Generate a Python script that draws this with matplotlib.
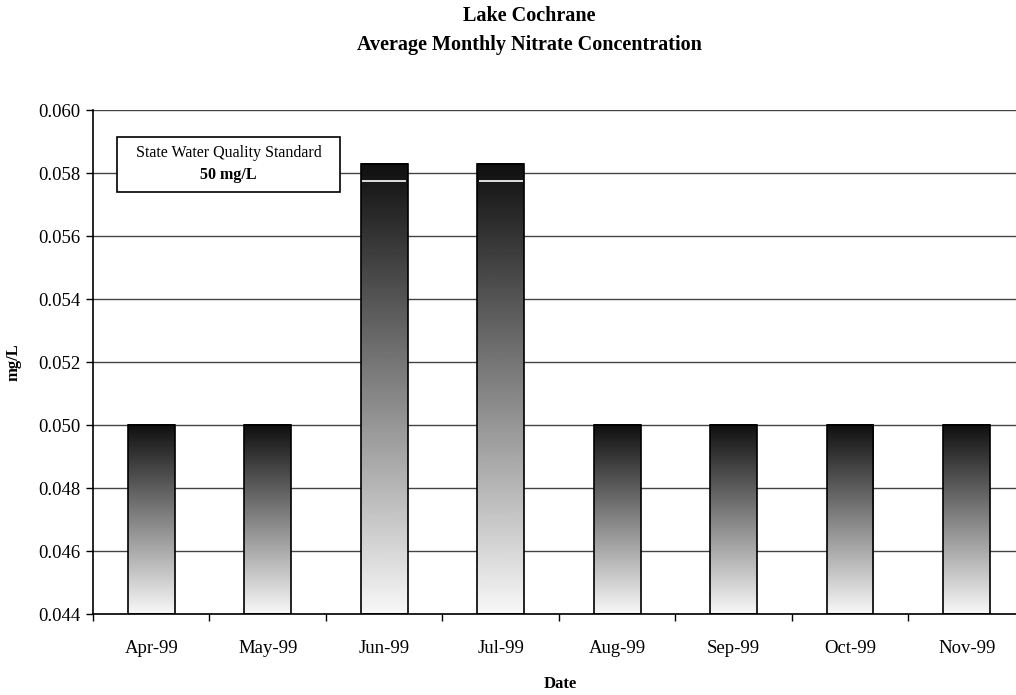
import numpy as np
import matplotlib
matplotlib.use("Agg")
import matplotlib.pyplot as plt
from matplotlib.patches import Rectangle

# data
months = ["Apr-99", "May-99", "Jun-99", "Jul-99", "Aug-99", "Sep-99", "Oct-99", "Nov-99"]
nitrate = [0.050, 0.050, 0.0583, 0.0583, 0.050, 0.050, 0.050, 0.050]
yticks = [0.044, 0.046, 0.048, 0.050, 0.052, 0.054, 0.056, 0.058, 0.060]
note_lines = ["State Water Quality Standard", "50 mg/L"]

plt.rcParams['font.family'] = ['Liberation Serif', 'DejaVu Serif']

fig = plt.figure(figsize=(10.16, 6.95), dpi=100)
ax = fig.add_axes([0.0915, 0.1165, 0.9173, 0.7252])

x = np.arange(len(months))
ymin, ymax = yticks[0], yticks[-1]

bars = ax.bar(x, [v - ymin for v in nitrate], bottom=ymin, width=0.4,
              facecolor='none', edgecolor='black', linewidth=1.2, zorder=3)

# vertical grey gradient inside each bar, dark at top, light at bottom
grad = np.linspace(0.06, 0.97, 256).reshape(-1, 1)
for b in bars:
    bx, by, bw, bh = b.get_x(), b.get_y(), b.get_width(), b.get_height()
    ax.imshow(grad, cmap='gray', vmin=0, vmax=1, aspect='auto',
              extent=[bx, bx + bw, by, by + bh], origin='upper',
              interpolation='bilinear', zorder=2)
    if by + bh > 0.055:
        # thin light seam just below the top of the tall bars
        ax.hlines(by + bh - 0.00055, bx + 0.01, bx + bw - 0.01,
                  color='white', lw=1.2, zorder=2.5)

ax.set_xlim(-0.5, len(months) - 0.5)
ax.set_ylim(ymin, ymax)
ax.set_yticks(yticks)
ax.set_yticklabels(["%.3f" % t for t in yticks])
ax.yaxis.grid(True, color='#444444', lw=1.0)
ax.set_axisbelow(True)

ax.set_xticks(x)
ax.set_xticklabels(months)
ax.set_xticks(np.arange(len(months) + 1) - 0.5, minor=True)
ax.tick_params(axis='x', which='major', length=0, pad=19, labelsize=13.5)
ax.tick_params(axis='x', which='minor', length=5, direction='out', width=1)
ax.tick_params(axis='y', length=5, direction='out', width=1, pad=4, labelsize=13.5)

for s in ['top', 'right']:
    ax.spines[s].set_visible(False)
for s in ['left', 'bottom']:
    ax.spines[s].set_linewidth(1.2)

# annotation box for the water quality standard
ax.add_patch(Rectangle((0.0258, 0.837), 0.239, 0.109, transform=ax.transAxes,
                       facecolor='white', edgecolor='black', lw=1.2, zorder=4))
ax.text(0.1455, 0.915, note_lines[0], transform=ax.transAxes, ha='center',
        va='center', fontsize=11.5, zorder=5)
ax.text(0.1455, 0.871, note_lines[1], transform=ax.transAxes, ha='center',
        va='center', fontsize=11.5, fontweight='bold', zorder=5)

fig.text(529 / 1016, 1 - 16 / 695, "Lake Cochrane", ha='center', va='center',
         fontsize=14.5, fontweight='bold')
fig.text(529 / 1016, 1 - 45 / 695, "Average Monthly Nitrate Concentration",
         ha='center', va='center', fontsize=14.5, fontweight='bold')
fig.text(14 / 1016, 1 - 362 / 695, "mg/L", rotation=90, ha='center',
         va='center', fontsize=12, fontweight='bold')
fig.text(560 / 1016, 1 - 684 / 695, "Date", ha='center', va='center',
         fontsize=12, fontweight='bold')

fig.savefig("out.png", dpi=100)
